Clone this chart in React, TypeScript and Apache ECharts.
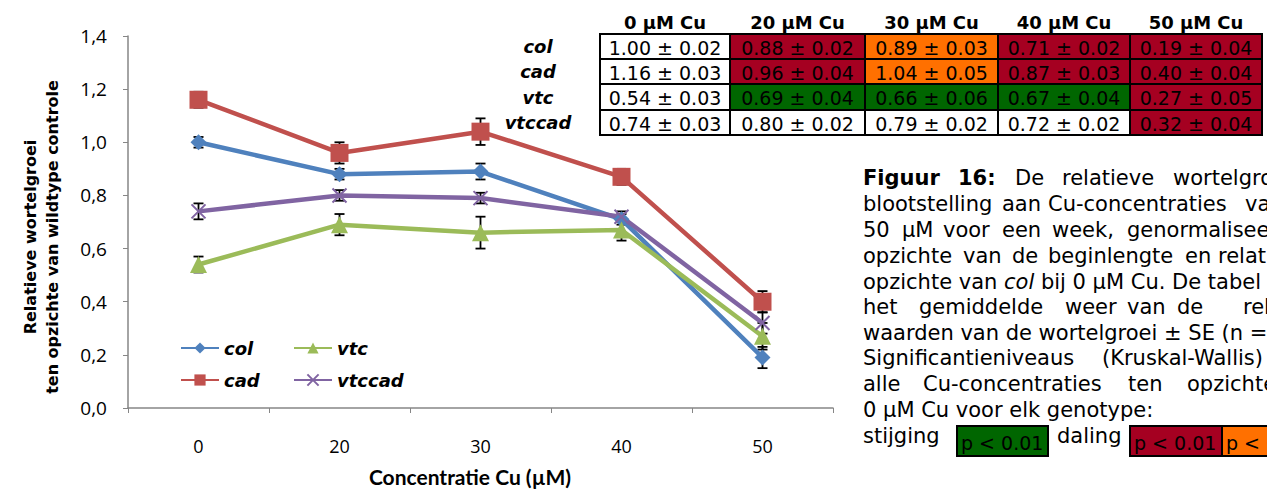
import React, { useEffect, useRef } from "react";
import * as echarts from "echarts";

// ---------- data ----------
const categories = ["0", "20", "30", "40", "50"];
const genotypes = ["col", "cad", "vtc", "vtccad"];
const colMean = [1.0, 0.88, 0.89, 0.71, 0.19];
const colSE = [0.02, 0.02, 0.03, 0.02, 0.04];
const cadMean = [1.16, 0.96, 1.04, 0.87, 0.4];
const cadSE = [0.03, 0.04, 0.05, 0.03, 0.04];
const vtcMean = [0.54, 0.69, 0.66, 0.67, 0.27];
const vtcSE = [0.03, 0.04, 0.06, 0.04, 0.05];
const vtccadMean = [0.74, 0.8, 0.79, 0.72, 0.32];
const vtccadSE = [0.03, 0.02, 0.02, 0.02, 0.04];
// significance codes: "" none, "up" increase p<0.01, "down" decrease p<0.01, "down05" decrease p<0.05
const colSig = ["", "down", "down05", "down", "down"];
const cadSig = ["", "down", "down05", "down", "down"];
const vtcSig = ["", "up", "up", "up", "down"];
const vtccadSig = ["", "", "", "", "down"];
const tableHeaders = ["0 µM Cu", "20 µM Cu", "30 µM Cu", "40 µM Cu", "50 µM Cu"];
const yMin = 0;
const yMax = 1.4;
const yInterval = 0.2;

const means = [colMean, cadMean, vtcMean, vtccadMean];
const ses = [colSE, cadSE, vtcSE, vtccadSE];
const sigs = [colSig, cadSig, vtcSig, vtccadSig];

// ---------- styles / layout ----------
const seriesColors = ["#4F81BD", "#C0504D", "#9BBB59", "#8064A2"];
const seriesSymbols = [
  "diamond",
  "rect",
  "triangle",
  "path://M0,0L10,10M0,10L10,0",
];
const symbolSizes = [16, 18, 17, 14];
const sigColors: Record<string, string> = {
  "": "#FFFFFF",
  up: "#006600",
  down: "#A50021",
  down05: "#FF7000",
};
const colBounds = [600, 730, 865, 998, 1130, 1262];
const rowBounds = [34, 59, 84, 110, 135];
const VERD = "'DejaVu Sans', Verdana, sans-serif";
const CAL = "Lato, 'Open Sans', sans-serif";
const TICK = "'Open Sans', Lato, sans-serif";

type Word = { t: string; x: number; b?: boolean };
const captionLineY = [178, 204, 230, 256, 282, 307, 333, 358, 384, 410, 436];
const captionWords: Word[][] = [
  [
    { t: "Figuur", x: 863, b: true },
    { t: "16:", x: 958, b: true },
    { t: "De", x: 1015 },
    { t: "relatieve", x: 1062 },
    { t: "wortelgroei", x: 1173 },
  ],
  [
    { t: "blootstelling", x: 863 },
    { t: "aan", x: 1002 },
    { t: "Cu-concentraties", x: 1048 },
    { t: "van", x: 1245 },
  ],
  [
    { t: "50", x: 863 },
    { t: "µM", x: 902 },
    { t: "voor", x: 943 },
    { t: "een", x: 1002 },
    { t: "week,", x: 1052 },
    { t: "genormaliseerd", x: 1127 },
  ],
  [
    { t: "opzichte", x: 863 },
    { t: "van", x: 963 },
    { t: "de", x: 1012 },
    { t: "beginlengte", x: 1048 },
    { t: "en", x: 1185 },
    { t: "relatief", x: 1218 },
  ],
  [],
  [
    { t: "het", x: 863 },
    { t: "gemiddelde", x: 919 },
    { t: "weer", x: 1065 },
    { t: "van", x: 1127 },
    { t: "de", x: 1177 },
    { t: "relatieve", x: 1243 },
  ],
  [{ t: "waarden van de wortelgroei ± SE (n =", x: 863 }],
  [
    { t: "Significantieniveaus", x: 863 },
    { t: "(Kruskal-Wallis)", x: 1102 },
  ],
  [
    { t: "alle", x: 863 },
    { t: "Cu-concentraties", x: 923 },
    { t: "ten", x: 1128 },
    { t: "opzichte", x: 1187 },
  ],
  [{ t: "0 µM Cu voor elk genotype:", x: 863 }],
  [
    { t: "stijging", x: 863 },
    { t: "daling", x: 1057 },
  ],
];

function buildGraphic() {
  const g: any[] = [];
  // table headers
  tableHeaders.forEach((h, c) => {
    g.push({
      type: "text",
      x: (colBounds[c] + colBounds[c + 1]) / 2,
      y: 22,
      style: {
        text: h,
        fill: "#000",
        fontFamily: VERD,
        fontWeight: "bold",
        fontSize: 18,
        align: "center",
        verticalAlign: "middle",
      },
    });
  });
  // rows
  genotypes.forEach((name, r) => {
    const y0 = rowBounds[r];
    const y1 = rowBounds[r + 1];
    g.push({
      type: "text",
      x: 538,
      y: (y0 + y1) / 2,
      style: {
        text: name,
        fill: "#000",
        fontFamily: VERD,
        fontWeight: "bold",
        fontStyle: "italic",
        fontSize: 18,
        align: "center",
        verticalAlign: "middle",
      },
    });
    categories.forEach((_, c) => {
      const x0 = colBounds[c];
      const x1 = colBounds[c + 1];
      g.push({
        type: "rect",
        shape: { x: x0, y: y0, width: x1 - x0, height: y1 - y0 },
        style: { fill: sigColors[sigs[r][c]], stroke: "#000", lineWidth: 2 },
      });
      g.push({
        type: "text",
        x: (x0 + x1) / 2,
        y: (y0 + y1) / 2 + 1,
        style: {
          text: `${means[r][c].toFixed(2)} ± ${ses[r][c].toFixed(2)}`,
          fill: "#000",
          fontFamily: VERD,
          fontSize: 19,
          align: "center",
          verticalAlign: "middle",
        },
      });
    });
  });
  // caption
  captionWords.forEach((line, i) => {
    line.forEach((w) => {
      g.push({
        type: "text",
        x: w.x,
        y: captionLineY[i],
        style: {
          text: w.t,
          fill: "#000",
          fontFamily: VERD,
          fontWeight: w.b ? "bold" : "normal",
          fontSize: 21,
          align: "left",
          verticalAlign: "middle",
        },
      });
    });
  });
  g.push({
    type: "text",
    x: 863,
    y: captionLineY[4],
    style: {
      text: "opzichte van {i|col} bij 0 µM Cu. De tabel",
      fill: "#000",
      fontFamily: VERD,
      fontSize: 21,
      align: "left",
      verticalAlign: "middle",
      rich: {
        i: { fontStyle: "italic", fontFamily: VERD, fontSize: 21, fill: "#000" },
      },
    },
  });
  // significance legend boxes
  const boxes = [
    { x: 957, w: 91, c: sigColors.up, t: "p < 0.01" },
    { x: 1130, w: 92, c: sigColors.down, t: "p < 0.01" },
    { x: 1222, w: 92, c: sigColors.down05, t: "p < 0.05" },
  ];
  boxes.forEach((b) => {
    g.push({
      type: "rect",
      shape: { x: b.x, y: 426, width: b.w, height: 30 },
      style: { fill: b.c, stroke: "#000", lineWidth: 2 },
    });
    g.push({
      type: "text",
      x: b.x + 4,
      y: 443,
      style: {
        text: b.t,
        fill: "#000",
        fontFamily: VERD,
        fontSize: 19,
        align: "left",
        verticalAlign: "middle",
      },
    });
  });
  // axis titles
  g.push({
    type: "text",
    x: 41,
    y: 237,
    rotation: Math.PI / 2,
    style: {
      text: "Relatieve wortelgroei\nten opzichte van wildtype controle",
      fill: "#000",
      fontFamily: VERD,
      fontWeight: "bold",
      fontSize: 16,
      lineHeight: 22,
      align: "center",
      verticalAlign: "middle",
    },
  });
  g.push({
    type: "text",
    x: 470,
    y: 476,
    style: {
      text: "Concentratie Cu (µM)",
      fill: "#000",
      fontFamily: CAL,
      fontWeight: "bold",
      fontSize: 21,
      align: "center",
      verticalAlign: "middle",
    },
  });
  return g;
}

export default function App() {
  const ref = useRef<HTMLDivElement>(null);
  useEffect(() => {
    if (!ref.current) return;
    const chart = echarts.init(ref.current, null, { renderer: "svg" });
    const lineSeries = genotypes.map((name, i) => ({
      name,
      type: "line",
      data: means[i],
      z: 3,
      symbol: seriesSymbols[i],
      symbolSize: symbolSizes[i],
      showAllSymbol: true,
      lineStyle: { color: seriesColors[i], width: 4.5 },
      itemStyle: {
        color: seriesColors[i],
        borderColor: seriesColors[i],
        borderWidth: i === 3 ? 2 : 0,
      },
      emphasis: { disabled: true },
    }));
    const errSeries = genotypes.map((name, i) => ({
      name: name + "_err",
      type: "custom",
      z: 2,
      data: means[i].map((m, k) => [k, m - ses[i][k], m + ses[i][k]]),
      encode: { x: 0, y: [1, 2] },
      renderItem: (params: any, api: any) => {
        const lo = api.coord([api.value(0), api.value(1)]);
        const hi = api.coord([api.value(0), api.value(2)]);
        const hw = 5;
        const st = { stroke: "#000", lineWidth: 1.8 };
        return {
          type: "group",
          children: [
            { type: "line", shape: { x1: lo[0], y1: lo[1], x2: hi[0], y2: hi[1] }, style: st },
            { type: "line", shape: { x1: lo[0] - hw, y1: lo[1], x2: lo[0] + hw, y2: lo[1] }, style: st },
            { type: "line", shape: { x1: hi[0] - hw, y1: hi[1], x2: hi[0] + hw, y2: hi[1] }, style: st },
          ],
        };
      },
    }));
    const legendText = {
      fontFamily: VERD,
      fontWeight: "bold",
      fontStyle: "italic",
      fontSize: 18,
      color: "#000",
    };
    const legendCommon = {
      orient: "vertical",
      top: 334,
      itemWidth: 38,
      itemHeight: 14,
      itemGap: 14,
      textStyle: legendText,
      selectedMode: false,
    };
    chart.setOption({
      animation: false,
      backgroundColor: "#fff",
      grid: { left: 128, top: 36, width: 705, height: 372, containLabel: false },
      legend: [
        { ...legendCommon, data: ["col", "cad"], left: 175 },
        { ...legendCommon, data: ["vtc", "vtccad"], left: 288 },
      ],
      xAxis: {
        type: "category",
        data: categories,
        boundaryGap: true,
        axisLine: { lineStyle: { color: "#868686", width: 1.5 } },
        axisTick: { show: true, length: 5, lineStyle: { color: "#868686" } },
        axisLabel: { color: "#000", fontFamily: TICK, fontSize: 18, margin: 29 },
        splitLine: { show: false },
      },
      yAxis: {
        type: "value",
        min: yMin,
        max: yMax,
        interval: yInterval,
        axisLine: { show: true, lineStyle: { color: "#868686", width: 1.5 } },
        axisTick: { show: true, length: 5, lineStyle: { color: "#868686" } },
        axisLabel: {
          color: "#000",
          fontFamily: TICK,
          fontSize: 19,
          margin: 21,
          formatter: (v: number) => v.toFixed(1).replace(".", ","),
        },
        splitLine: { show: false },
      },
      series: [...errSeries, ...lineSeries],
      graphic: buildGraphic(),
    });
    return () => chart.dispose();
  }, []);
  return (
    <div
      ref={ref}
      style={{
        position: "fixed",
        left: 0,
        top: 0,
        width: 1267,
        height: 491,
        overflow: "hidden",
        background: "#fff",
      }}
    />
  );
}
